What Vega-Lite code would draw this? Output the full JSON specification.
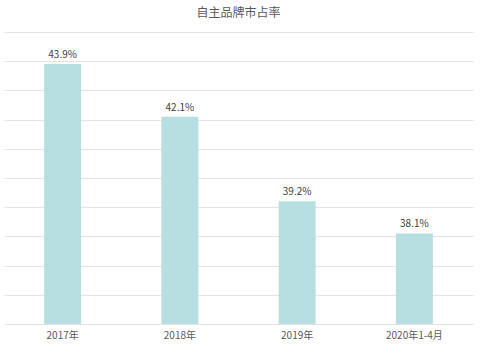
{
  "$schema": "https://vega.github.io/schema/vega-lite/v6.json",
  "width": 469,
  "height": 292,
  "autosize": {"type": "none"},
  "padding": {"left": 4, "top": 32, "right": 7, "bottom": 37},
  "background": "white",
  "title": {
    "text": "自主品牌市占率",
    "fontSize": 12,
    "font": "Noto Sans CJK SC",
    "fontWeight": "normal",
    "color": "#595959",
    "offset": 12
  },
  "data": {
    "values": [
      {"year": "2017年", "share": 43.9, "label": "43.9%"},
      {"year": "2018年", "share": 42.1, "label": "42.1%"},
      {"year": "2019年", "share": 39.2, "label": "39.2%"},
      {"year": "2020年1-4月", "share": 38.1, "label": "38.1%"}
    ]
  },
  "config": {
    "view": {"stroke": null},
    "font": "Noto Sans CJK SC"
  },
  "encoding": {
    "x": {
      "field": "year",
      "type": "nominal",
      "sort": null,
      "scale": {"paddingInner": 0, "paddingOuter": 0},
      "axis": {
        "title": null,
        "labelAngle": 0,
        "labelFontSize": 10,
        "labelColor": "#595959",
        "labelPadding": 6,
        "domain": false,
        "ticks": false,
        "grid": false
      }
    },
    "y": {
      "field": "share",
      "type": "quantitative",
      "scale": {"domain": [35, 45], "nice": false, "zero": false},
      "axis": {
        "title": null,
        "labels": false,
        "ticks": false,
        "domain": false,
        "values": [35, 36, 37, 38, 39, 40, 41, 42, 43, 44, 45],
        "grid": true,
        "gridColor": "#e4e4e4",
        "gridWidth": 1
      }
    }
  },
  "layer": [
    {
      "mark": {"type": "bar", "width": 37, "color": "#b7dee0", "clip": true},
      "encoding": {"y2": {"datum": 35}}
    },
    {
      "mark": {"type": "text", "baseline": "bottom", "dy": -4, "fontSize": 10, "color": "#404040"},
      "encoding": {"text": {"field": "label"}}
    }
  ]
}
